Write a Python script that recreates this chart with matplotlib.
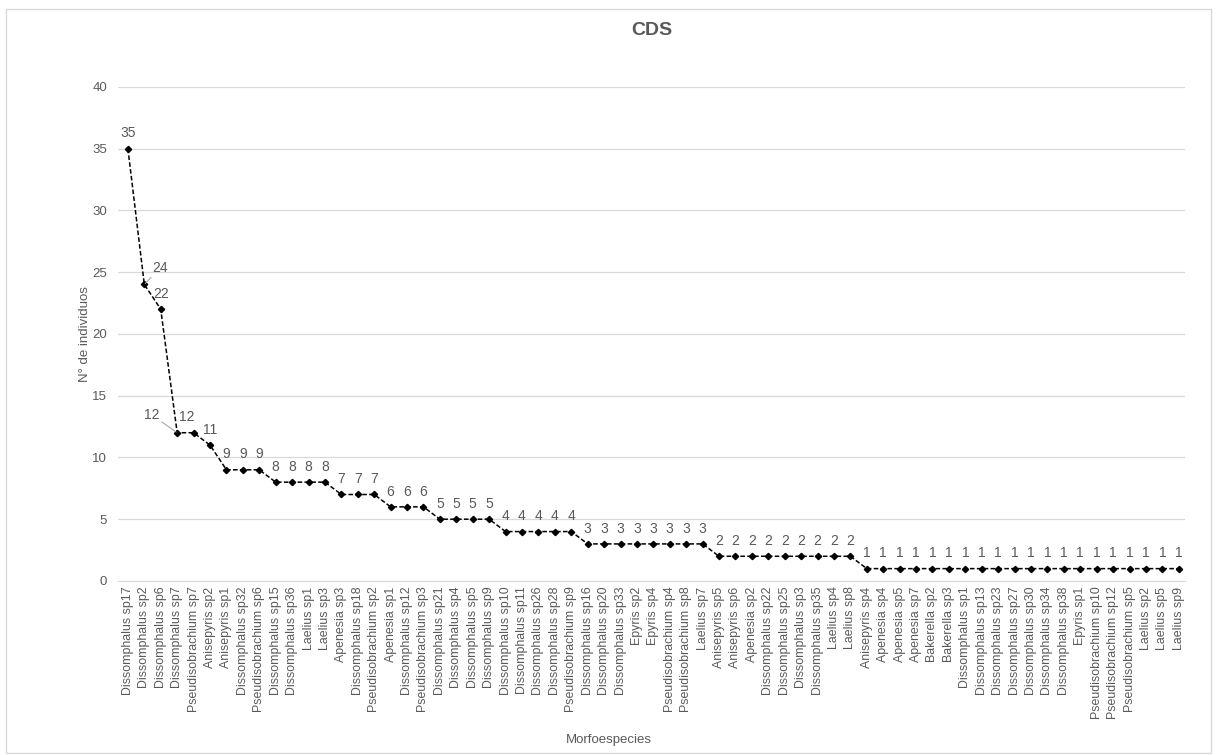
import numpy as np
import matplotlib.pyplot as plt
from matplotlib.patches import Rectangle

plt.rcParams['font.family'] = ['Liberation Sans', 'DejaVu Sans']

especies = [
    'Dissomphalus sp17', 'Dissomphalus sp2', 'Dissomphalus sp6', 'Dissomphalus sp7',
    'Pseudisobrachium sp7', 'Anisepyris sp2', 'Anisepyris sp1', 'Dissomphalus sp32',
    'Pseudisobrachium sp6', 'Dissomphalus sp15', 'Dissomphalus sp36', 'Laelius sp1',
    'Laelius sp3', 'Apenesia sp3', 'Dissomphalus sp18', 'Pseudisobrachium sp2',
    'Apenesia sp1', 'Dissomphalus sp12', 'Pseudisobrachium sp3', 'Dissomphalus sp21',
    'Dissomphalus sp4', 'Dissomphalus sp5', 'Dissomphalus sp9', 'Dissomphalus sp10',
    'Dissomphalus sp11', 'Dissomphalus sp26', 'Dissomphalus sp28', 'Pseudisobrachium sp9',
    'Dissomphalus sp16', 'Dissomphalus sp20', 'Dissomphalus sp33', 'Epyris sp2',
    'Epyris sp4', 'Pseudisobrachium sp4', 'Pseudisobrachium sp8', 'Laelius sp7',
    'Anisepyris sp5', 'Anisepyris sp6', 'Apenesia sp2', 'Dissomphalus sp22',
    'Dissomphalus sp25', 'Dissomphalus sp3', 'Dissomphalus sp35', 'Laelius sp4',
    'Laelius sp8', 'Anisepyris sp4', 'Apenesia sp4', 'Apenesia sp5', 'Apenesia sp7',
    'Bakerella sp2', 'Bakerella sp3', 'Dissomphalus sp1', 'Dissomphalus sp13',
    'Dissomphalus sp23', 'Dissomphalus sp27', 'Dissomphalus sp30', 'Dissomphalus sp34',
    'Dissomphalus sp38', 'Epyris sp1', 'Pseudisobrachium sp10', 'Pseudisobrachium sp12',
    'Pseudisobrachium sp5', 'Laelius sp2', 'Laelius sp5', 'Laelius sp9',
]
individuos = [35, 24, 22, 12, 12, 11, 9, 9, 9, 8, 8, 8, 8, 7, 7, 7, 6, 6, 6,
              5, 5, 5, 5, 4, 4, 4, 4, 4, 3, 3, 3, 3, 3, 3, 3, 3,
              2, 2, 2, 2, 2, 2, 2, 2, 2] + [1] * 20

grey = '#595959'

fig = plt.figure(figsize=(12.17, 7.55), dpi=100)
ax = fig.add_axes([0.097, 0.2305, 0.877, 0.6545])

x = np.arange(len(especies))
ax.plot(x, individuos, color='black', linestyle=(0, (3, 1.5)), linewidth=1.1,
        marker='D', markersize=3.2, zorder=3)

# etiquetas de datos
for i, v in enumerate(individuos):
    if i == 1:
        ax.annotate(str(v), (i, v), xytext=(6, 7), textcoords='offset points',
                    ha='left', va='bottom', fontsize=10, color=grey,
                    arrowprops=dict(arrowstyle='-', color='#a6a6a6', lw=0.8,
                                    shrinkA=0, shrinkB=1))
    elif i == 3:
        ax.annotate(str(v), (i, v), xytext=(-13, 8), textcoords='offset points',
                    ha='right', va='bottom', fontsize=10, color=grey,
                    arrowprops=dict(arrowstyle='-', color='#a6a6a6', lw=0.8,
                                    shrinkA=0, shrinkB=1))
    elif i == 4:
        ax.annotate(str(v), (i, v), xytext=(-5, 6), textcoords='offset points',
                    ha='center', va='bottom', fontsize=10, color=grey)
    else:
        ax.annotate(str(v), (i, v), xytext=(0, 6), textcoords='offset points',
                    ha='center', va='bottom', fontsize=10, color=grey)

ax.set_xlim(-0.6, len(especies) - 0.6)
ax.set_ylim(0, 40)
ax.set_yticks(range(0, 41, 5))
ax.set_xticks(x)
ax.set_xticklabels(especies, rotation=90, fontsize=8.9, color=grey)
ax.tick_params(axis='y', labelsize=9.5, labelcolor=grey, length=0, pad=8)
ax.tick_params(axis='x', length=0, pad=4)
ax.grid(axis='y', color='#d9d9d9', linewidth=0.9)
ax.set_axisbelow(True)
for s in ['top', 'right', 'left']:
    ax.spines[s].set_visible(False)
ax.spines['bottom'].set_color('#d9d9d9')

ax.set_title('CDS', fontsize=14, fontweight='bold', color=grey, pad=37)
ax.set_ylabel('N° de individuos', fontsize=9.5, color=grey, labelpad=1)
fig.text(0.5, 0.012, 'Morfoespecies', ha='center', va='bottom', fontsize=9.5, color=grey)

fig.patches.append(Rectangle((0.005, 0.003), 0.99, 0.985, transform=fig.transFigure,
                             fill=False, edgecolor='#d9d9d9', linewidth=1))

fig.savefig('out.png', dpi=100, facecolor='white')
